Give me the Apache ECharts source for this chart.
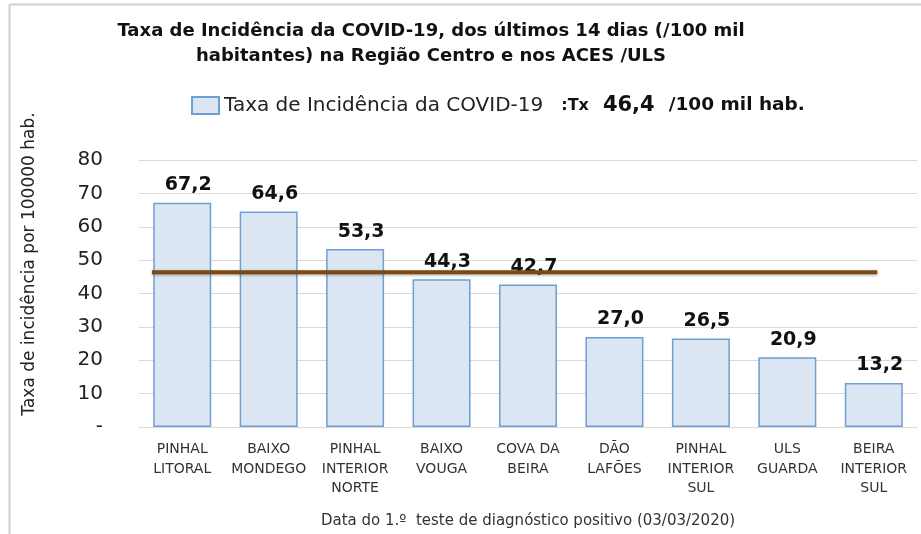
<!DOCTYPE html>
<html><head><meta charset="utf-8">
<script src="https://cdn.jsdelivr.net/npm/echarts@6/dist/echarts.min.js"></script>
<style>html,body{margin:0;padding:0;background:#fff}#c{width:921px;height:534px}</style>
</head><body><div id="c"></div>
<script>
const categories = ['PINHAL\nLITORAL','BAIXO\nMONDEGO','PINHAL\nINTERIOR\nNORTE','BAIXO\nVOUGA','COVA DA\nBEIRA','DÃO\nLAFÕES','PINHAL\nINTERIOR\nSUL','ULS\nGUARDA','BEIRA\nINTERIOR\nSUL'];
const values = [67.2, 64.6, 53.3, 44.3, 42.7, 27.0, 26.5, 20.9, 13.2];
const regionRate = 46.4;
const regionLineExtent = [0.15, 8.54];
const yTicks = [0, 10, 20, 30, 40, 50, 60, 70, 80];

const font = '"DejaVu Sans", sans-serif';
const chart = echarts.init(document.getElementById('c'));
chart.setOption({
  animation: false,
  textStyle: {fontFamily: font},
  title: {
    text: 'Taxa de Incidência da COVID-19, dos últimos 14 dias (/100 mil\nhabitantes) na Região Centro e nos ACES /ULS',
    left: 426, top: 14, textAlign: 'center',
    textStyle: {fontFamily: font, fontSize: 18, fontWeight: 'bold', color: '#111', lineHeight: 25}
  },
  legend: {
    left: 186, top: 90, itemWidth: 27, itemHeight: 17, itemGap: 6,
    data: [{name: 'Taxa de Incidência da COVID-19', icon: 'rect'}],
    formatter: function (n) { return '{a|' + n + '}{b|:Tx}{c|46,4}{d|/100 mil hab.}'; },
    textStyle: {
      rich: {
        a: {fontFamily: font, fontSize: 20, color: '#222'},
        b: {fontFamily: font, fontSize: 16, fontWeight: 'bold', color: '#111', padding: [0, 0, 0, 18]},
        c: {fontFamily: font, fontSize: 21, fontWeight: 'bold', color: '#111', padding: [0, 0, 0, 14]},
        d: {fontFamily: font, fontSize: 18.5, fontWeight: 'bold', color: '#111', padding: [0, 0, 0, 14]}
      }
    }
  },
  grid: {left: 139, right: 4, top: 160, bottom: 106},
  xAxis: [{
    type: 'category', data: categories,
    axisLine: {lineStyle: {color: '#d9d9d9'}}, axisTick: {show: false},
    axisLabel: {fontFamily: font, fontSize: 14, color: '#333', lineHeight: 19.5, interval: 0, margin: 13},
    name: 'Data do 1.º  teste de diagnóstico positivo (03/03/2020)',
    nameLocation: 'middle', nameGap: 87,
    nameTextStyle: {fontFamily: font, fontSize: 15, color: '#333'}
  }, {
    type: 'value', min: 0, max: categories.length, show: false
  }],
  yAxis: {
    type: 'value', min: yTicks[0], max: yTicks[yTicks.length - 1], interval: 10,
    axisLine: {show: false}, axisTick: {show: false},
    splitLine: {lineStyle: {color: '#d9d9d9'}},
    axisLabel: {fontFamily: font, fontSize: 20, color: '#222', margin: 36,
      formatter: function (v) { return v === 0 ? '-' : String(v); }}
  },
  series: [{
    name: 'Taxa de Incidência da COVID-19', type: 'bar', data: values, barWidth: 58,
    itemStyle: {color: '#dce6f2', borderColor: '#6c9fd6', borderWidth: 1.5},
    label: {show: true, position: 'top', distance: 8, offset: [6, 0], fontFamily: font, fontSize: 19, fontWeight: 'bold', color: '#111',
      formatter: function (p) { return p.value.toFixed(1).replace('.', ','); }}
  }, {
    name: 'Tx', type: 'line', xAxisIndex: 1, symbol: 'none', silent: true,
    data: regionLineExtent.map(function (x) { return [x, regionRate]; }),
    lineStyle: {color: '#7b4a12', width: 4, shadowColor: 'rgba(0,0,0,0.35)', shadowBlur: 3, shadowOffsetY: 1},
    z: 5
  }],
  graphic: [
    {type: 'line', shape: {x1: 9.5, y1: 4.5, x2: 921, y2: 4.5}, style: {stroke: '#d0d0d0', lineWidth: 2}},
    {type: 'line', shape: {x1: 9.5, y1: 4.5, x2: 9.5, y2: 534}, style: {stroke: '#d0d0d0', lineWidth: 2}},
    {type: 'text', x: 30, y: 264, rotation: Math.PI / 2,
      style: {text: 'Taxa de incidência por 100000 hab.', font: '17px "DejaVu Sans", sans-serif', fill: '#222',
        textAlign: 'center', textVerticalAlign: 'middle'}}
  ]
});
</script></body></html>
